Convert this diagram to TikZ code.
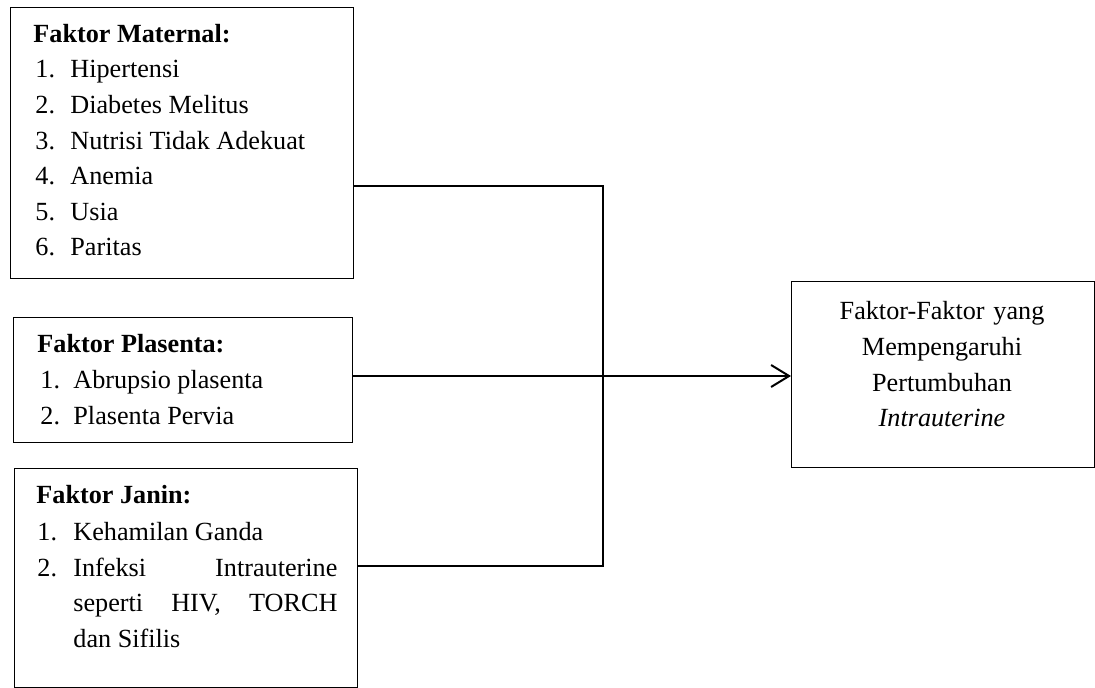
\documentclass[tikz,border=0pt]{standalone}
\usepackage{fontspec}
\setmainfont{Liberation Serif}
\usetikzlibrary{arrows.meta}
\usetikzlibrary{calc}

\tikzset{
 factbox/.style={draw, line width=.6pt, inner sep=0pt, anchor=north west},
 txt/.style={inner sep=0pt, anchor=base west, font=\fontsize{13.1}{17.8}\selectfont},
 conn/.style={line width=1pt},
}

\begin{document}
\begin{tikzpicture}[x=.5pt, y=-.5pt]
\useasboundingbox (0,0) rectangle (1095,688);
% kotak faktor
\node[factbox, minimum width=171.5pt, minimum height=135.5pt] (mat) at (10,7) {};
\node[factbox, minimum width=169.5pt, minimum height=62.5pt] (pla) at (13,317) {};
\node[factbox, minimum width=171.5pt, minimum height=109.5pt] (jan) at (14,468) {};
\node[factbox, minimum width=151.5pt, minimum height=93pt] (hasil) at (791,281) {};

% faktor maternal
\node[txt, font=\fontsize{13.1}{17.8}\selectfont\bfseries] (matT) at (33,43) {Faktor Maternal:};
\foreach \t [count=\i] in {Hipertensi, Diabetes Melitus, Nutrisi Tidak Adekuat, Anemia, Usia, Paritas} {
 \node[txt] (matN\i) at (35, 78+35.6*\i-35.6) {\i.};
 \node[txt] (mat\i) at (70, 78+35.6*\i-35.6) {\t};
 }

% faktor plasenta
\node[txt, font=\fontsize{13.1}{17.8}\selectfont\bfseries] (plaT) at (37,353) {Faktor Plasenta:};
\foreach \t [count=\i] in {Abrupsio plasenta, Plasenta Pervia} {
 \node[txt] (plaN\i) at (40, 389+35.6*\i-35.6) {\i.};
 \node[txt] (pla\i) at (73, 389+35.6*\i-35.6) {\t};
 }

% faktor janin
\node[txt, font=\fontsize{13.1}{17.8}\selectfont\bfseries] (janT) at (36,503) {Faktor Janin:};
\node[txt] (janN1) at (37,540) {1.};
\node[txt] (jan1) at (73,540) {Kehamilan Ganda};
\node[txt] (janN2) at (37,576) {2.};
\node[txt, text width=132pt, align=justify] (jan2) at (73,576)
 {\hyphenpenalty=10000 Infeksi Intrauterine\linebreak seperti HIV, TORCH\linebreak dan Sifilis};

% hasil
\node[txt, anchor=base, text width=150pt, align=center] (hasilT) at (942,320)
 {Faktor-Faktor yang\\Mempengaruhi\\Pertumbuhan\\\textit{Intrauterine}};

% garis penghubung
\coordinate (top) at (603,186);
\coordinate (mid) at (603,376);
\coordinate (bot) at (603,566);
\draw[conn] (mat.east |- top) -- (top) -- (bot) -- (jan.east |- bot);
\draw[conn] (pla.east |- mid) -- (mid);
\draw[conn, -{Straight Barb[length=9pt, width=11pt, line width=1pt]}] (mid) -- (hasil.west |- mid);
\end{tikzpicture}
\end{document}
